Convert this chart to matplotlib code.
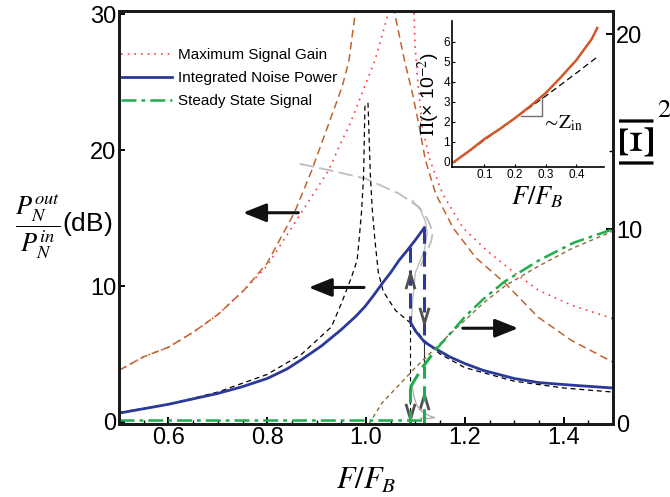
"""
Noise gain and steady-state signal of a driven bistable amplifier vs drive F/F_B,
with an inset of the input response Pi(F).
Values are read off the reference figure.
"""
import matplotlib
matplotlib.use("Agg")
import matplotlib.pyplot as plt
from matplotlib import font_manager
from matplotlib.path import Path
from matplotlib.ticker import FixedLocator, MultipleLocator, FormatStrFormatter

# --- left axis (dB) -------------------------------------------------------
red_left_F = [0.5, 0.55, 0.6, 0.65, 0.7, 0.753, 0.8, 0.869, 0.924, 0.951, 0.965, 0.992, 1.018, 1.043, 1.05]
red_left_db = [3.8, 4.8, 5.5, 6.6, 7.9, 9.7, 11.5, 15.4, 18.5, 20.7, 21.7, 24.2, 26.6, 29.8, 30.6]
red_right_F = [1.097, 1.099, 1.104, 1.114, 1.129, 1.155, 1.196, 1.245, 1.3, 1.349, 1.416, 1.5]
red_right_db = [30.6, 27.9, 25.4, 21.7, 19.3, 16.8, 14.3, 12.6, 11.0, 9.7, 8.6, 7.6]

brown_left_F = [0.5, 0.55, 0.6, 0.65, 0.7, 0.753, 0.8, 0.855, 0.89, 0.937, 0.951, 0.965, 0.98]
brown_left_db = [3.8, 4.8, 5.5, 6.6, 7.9, 9.7, 11.7, 15.4, 18.5, 23.2, 24.6, 26.5, 30.6]
brown_right_F = [1.055, 1.078, 1.094, 1.108, 1.12, 1.141, 1.176, 1.222, 1.282, 1.349, 1.416, 1.5]
brown_right_db = [30.6, 26.6, 24.2, 21.7, 19.3, 16.8, 14.3, 12.1, 10.2, 7.7, 6.0, 4.4]

blue_left_F = [0.5, 0.6, 0.65, 0.7, 0.75, 0.8, 0.84, 0.87, 0.89, 0.91, 0.93, 0.95, 0.98,
               0.998, 1.015, 1.033, 1.05, 1.067, 1.085, 1.1, 1.118]
blue_left_db = [0.65, 1.3, 1.7, 2.1, 2.6, 3.2, 3.9, 4.6, 5.1, 5.6, 6.2, 6.8, 7.8,
                8.5, 9.3, 10.2, 11.0, 11.9, 12.7, 13.4, 14.3]
blue_right_F = [1.09, 1.1, 1.118, 1.135, 1.15, 1.169, 1.2, 1.237, 1.3, 1.349, 1.42, 1.5]
blue_right_db = [7.35, 6.7, 5.9, 5.5, 5.2, 4.8, 4.3, 3.8, 3.2, 2.9, 2.7, 2.5]

black_left_F = [0.5, 0.6, 0.7, 0.8, 0.87, 0.93, 0.951, 0.971, 0.982, 0.986, 0.991, 0.995, 0.998]
black_left_db = [0.7, 1.3, 2.2, 3.5, 5.0, 7.0, 8.8, 10.7, 11.9, 13.4, 15.5, 18.0, 23.5]
black_right_F = [1.004, 1.009, 1.013, 1.018, 1.025, 1.035, 1.06, 1.088, 1.118, 1.15, 1.2, 1.3, 1.4, 1.5]
black_right_db = [23.5, 18.0, 15.5, 13.4, 11.0, 9.6, 8.2, 7.35, 6.0, 5.0, 4.0, 3.0, 2.5, 2.2]

gray_upper_F = [0.866, 0.93, 1.0, 1.067, 1.108, 1.125, 1.135, 1.132, 1.124, 1.11]
gray_upper_db = [19.0, 18.5, 17.9, 16.8, 15.8, 14.9, 14.0, 13.3, 12.6, 11.4]
gray_inner_F = [1.094, 1.11, 1.12, 1.124, 1.118, 1.1, 1.094, 1.092]
gray_inner_db = [16.3, 15.6, 14.8, 13.9, 12.6, 11.0, 8.75, 7.5]

F_JUMP_DOWN = 1.09   # upper branch ends (sweeping down)
F_JUMP_UP = 1.118    # lower branch ends (sweeping up)

# --- right axis (|Xi|^2) --------------------------------------------------
green_low_F = [0.5, 1.118]
green_low_val = [0.2, 0.2]
green_high_F = [1.09, 1.114, 1.141, 1.169, 1.2, 1.237, 1.28, 1.35, 1.42, 1.5]
green_high_val = [1.9, 2.9, 3.8, 4.6, 5.5, 6.4, 7.3, 8.4, 9.3, 10.0]

olive_F = [1.006, 1.033, 1.078, 1.1, 1.145, 1.169, 1.212, 1.237, 1.282, 1.349, 1.416, 1.5]
olive_val = [0.0, 1.1, 2.3, 2.9, 4.0, 4.6, 5.6, 6.2, 7.1, 8.1, 9.0, 9.9]

gray_low_F = [1.094, 1.097, 1.103, 1.115, 1.13, 1.139, 1.128, 1.11]
gray_low_val = [1.9, 1.4, 0.95, 0.6, 0.4, 0.33, 0.28, 0.3]

# --- inset ----------------------------------------------------------------
inset_F = [0.0, 0.05, 0.1, 0.15, 0.2, 0.25, 0.3, 0.35, 0.4, 0.45, 0.468]
inset_pi = [0.0, 0.55, 1.15, 1.65, 2.2, 2.8, 3.45, 4.25, 5.1, 6.15, 6.7]
inset_lin_F = [0.0, 0.1, 0.2, 0.3, 0.4, 0.468]
inset_lin_pi = [0.0, 1.1, 2.2, 3.3, 4.45, 5.25]
slope_F = [0.22, 0.287, 0.287]
slope_pi = [2.3, 2.3, 3.25]

# (tail F, head F, level in dB)
arrows = [(0.863, 0.751, 15.4), (0.996, 0.884, 9.9), (1.196, 1.308, 6.9)]
# chevrons on the jump lines: (F, dB, pointing up?)
chevrons = [(F_JUMP_DOWN, 10.4, True), (F_JUMP_UP, 7.9, False),
            (F_JUMP_DOWN, 0.8, False), (F_JUMP_UP, 1.5, True)]

names = {f.name for f in font_manager.fontManager.ttflist}
SANS = "Liberation Sans Narrow" if "Liberation Sans Narrow" in names else "Liberation Sans"

RED = "#ff3b3b"
BROWN = "#c0642e"
BLUE = "#2b3a9a"
GREEN = "#1fae4b"
OLIVE = "#8a6d3b"
GRAY = "#bdbdbd"

plt.rcParams["font.family"] = [SANS, "DejaVu Sans"]
plt.rcParams["mathtext.fontset"] = "stix"

W, H = 670, 497
fig = plt.figure(figsize=(W / 100, H / 100), dpi=100)
ax = fig.add_axes([119 / W, 1 - 424 / H, (613 - 119) / W, (424 - 11) / H])
ax2 = ax.twinx()

# left-axis curves
ax.plot(red_left_F, red_left_db, color=RED, lw=1.2, ls=(0, (1, 3)), label="Maximum Signal Gain")
ax.plot(red_right_F, red_right_db, color=RED, lw=1.2, ls=(0, (1, 3)))
ax.plot(brown_left_F, brown_left_db, color=BROWN, lw=1.1, ls=(0, (5, 3)))
ax.plot(brown_right_F, brown_right_db, color=BROWN, lw=1.1, ls=(0, (5, 3)))
ax.plot(gray_upper_F, gray_upper_db, color=GRAY, lw=1.3, ls=(0, (8, 3)))
ax.plot(gray_inner_F, gray_inner_db, color=GRAY, lw=1.0)
ax.plot(black_left_F, black_left_db, color="k", lw=0.9, ls=(0, (4, 3)))
ax.plot(black_right_F, black_right_db, color="k", lw=0.9, ls=(0, (4, 3)))
ax.plot([F_JUMP_DOWN, F_JUMP_DOWN], [blue_right_db[0], 0.3], color="k", lw=0.8, ls=(0, (4, 3)))
ax.plot([F_JUMP_UP, F_JUMP_UP], [blue_right_db[2], 4.2], color="#333", lw=0.8)
ax.plot(blue_left_F, blue_left_db, color=BLUE, lw=2.0, label="Integrated Noise Power")
ax.plot(blue_right_F, blue_right_db, color=BLUE, lw=2.0)
ax.plot([F_JUMP_DOWN, F_JUMP_DOWN], [12.9, blue_right_db[0]], color=BLUE, lw=2.2, ls=(0, (5, 2.5)))
ax.plot([F_JUMP_UP, F_JUMP_UP], [blue_left_db[-1], blue_right_db[2]], color=BLUE, lw=2.2, ls=(0, (5, 2.5)))

# right-axis curves
ax2.plot(olive_F, olive_val, color=OLIVE, lw=1.0, ls=(0, (3, 2.5)))
ax2.plot(gray_low_F, gray_low_val, color="#b0b0b0", lw=1.0)
ax2.plot(green_low_F, green_low_val, color=GREEN, lw=1.8, ls=(0, (6, 2, 1.5, 2)))
ax2.plot(green_high_F[:3], green_high_val[:3], color=GREEN, lw=2.2, ls=(0, (5, 2.5)))
ax2.plot(green_high_F[2:], green_high_val[2:], color=GREEN, lw=1.8, ls=(0, (6, 2, 1.5, 2)))
ax2.plot([F_JUMP_DOWN, F_JUMP_DOWN], [green_high_val[0], 0.0], color=GREEN, lw=2.2, ls=(0, (5, 2.5)))
ax2.plot([F_JUMP_UP, F_JUMP_UP], [0.0, 3.0], color=GREEN, lw=2.2, ls=(0, (5, 2.5)))

# legend entry for the green dash-dot
ax.plot([], [], color=GREEN, lw=1.8, ls=(0, (6, 2, 1.5, 2)), label="Steady State Signal")

# direction arrows and hysteresis chevrons
for tail, head, y in arrows:
    ax.annotate("", xy=(head, y), xytext=(tail, y),
                arrowprops=dict(arrowstyle="-|>,head_length=1.0,head_width=0.4",
                                lw=2.2, color="#111", mutation_scale=14,
                                shrinkA=0, shrinkB=0))
chev_up = Path([(-0.6, -1.0), (0.0, 1.0), (0.6, -1.0)])
chev_dn = Path([(-0.6, 1.0), (0.0, -1.0), (0.6, 1.0)])
for f, y, up in chevrons:
    ax.plot([f], [y], marker=chev_up if up else chev_dn, ms=11, mfc="none",
            mec="#505050", mew=2.0, ls="none", zorder=5)

ax.set_xlim(0.5, 1.5)
ax.set_ylim(-0.15, 30.25)
ax2.set_ylim(0, 21.2)
ax.xaxis.set_major_locator(FixedLocator([0.6, 0.8, 1.0, 1.2, 1.4]))
ax.xaxis.set_minor_locator(MultipleLocator(0.05))
ax.xaxis.set_major_formatter(FormatStrFormatter("%.1f"))
ax.set_yticks([0, 10, 20, 30])
ax2.set_yticks([0, 10, 20])
ax2.yaxis.set_minor_locator(FixedLocator([14]))

for a in (ax, ax2):
    a.tick_params(which="major", direction="in", length=5, width=1.4, labelsize=17, pad=2)
    a.tick_params(which="minor", direction="in", length=3, width=1.0)
    for sp in a.spines.values():
        sp.set_linewidth(2.0)
        sp.set_color("#1a1a1a")
ax.tick_params(axis="y", which="major", length=4)

ax.set_xlabel(r"$F/F_B$", fontsize=22, labelpad=12)
fig.text(64 / W, 1 - 227 / H, r"$\dfrac{P_N^{out}}{P_N^{in}}$(dB)", fontsize=19,
         ha="center", va="center")
fig.text(640 / W, 1 - 143 / H, r"$|\Xi|$", fontsize=36, rotation=90,
         ha="center", va="center")
fig.text(664 / W, 1 - 110 / H, r"$2$", fontsize=19, ha="center", va="center")

ax.legend(loc="upper left", bbox_to_anchor=(0.005, 0.91), frameon=False,
          fontsize=11, handlelength=3.3, handletextpad=0.4, labelspacing=0.58,
          borderpad=0, borderaxespad=0)

# inset
axi = fig.add_axes([452 / W, 1 - 167 / H, (604 - 452) / W, (167 - 21) / H])
axi.plot(inset_lin_F, inset_lin_pi, color="k", lw=0.9, ls=(0, (5, 3)))
axi.plot(inset_F, inset_pi, color="#d2572a", lw=1.8)
axi.plot(slope_F, slope_pi, color="#707070", lw=1.0)
axi.text(0.288, 1.95, r"$\sim\!\mathrm{Z}_{\mathrm{in}}$", fontsize=14, ha="left", va="center")
axi.set_xlim(-0.006, 0.49)
axi.set_ylim(-0.25, 7.05)
axi.set_xticks([0.1, 0.2, 0.3, 0.4])
axi.set_yticks(range(7))
axi.xaxis.set_major_formatter(FormatStrFormatter("%.1f"))
axi.tick_params(direction="in", length=2, width=0.8, labelsize=8.5, pad=1.5)
for lab in axi.get_xticklabels() + axi.get_yticklabels():
    lab.set_family(["Liberation Sans", "DejaVu Sans"])
axi.spines["top"].set_visible(False)
axi.spines["right"].set_visible(False)
for s in ("left", "bottom"):
    axi.spines[s].set_linewidth(1.2)
axi.patch.set_alpha(0)
axi.set_ylabel(r"$\Pi$(× 10$^{-2}$)", fontsize=14, labelpad=1,
               family=["Liberation Sans", "DejaVu Sans"])
fig.text(537 / W, 1 - 197 / H, r"$F/F_B$", fontsize=19, ha="center", va="center")

fig.savefig("out.png", dpi=100)
